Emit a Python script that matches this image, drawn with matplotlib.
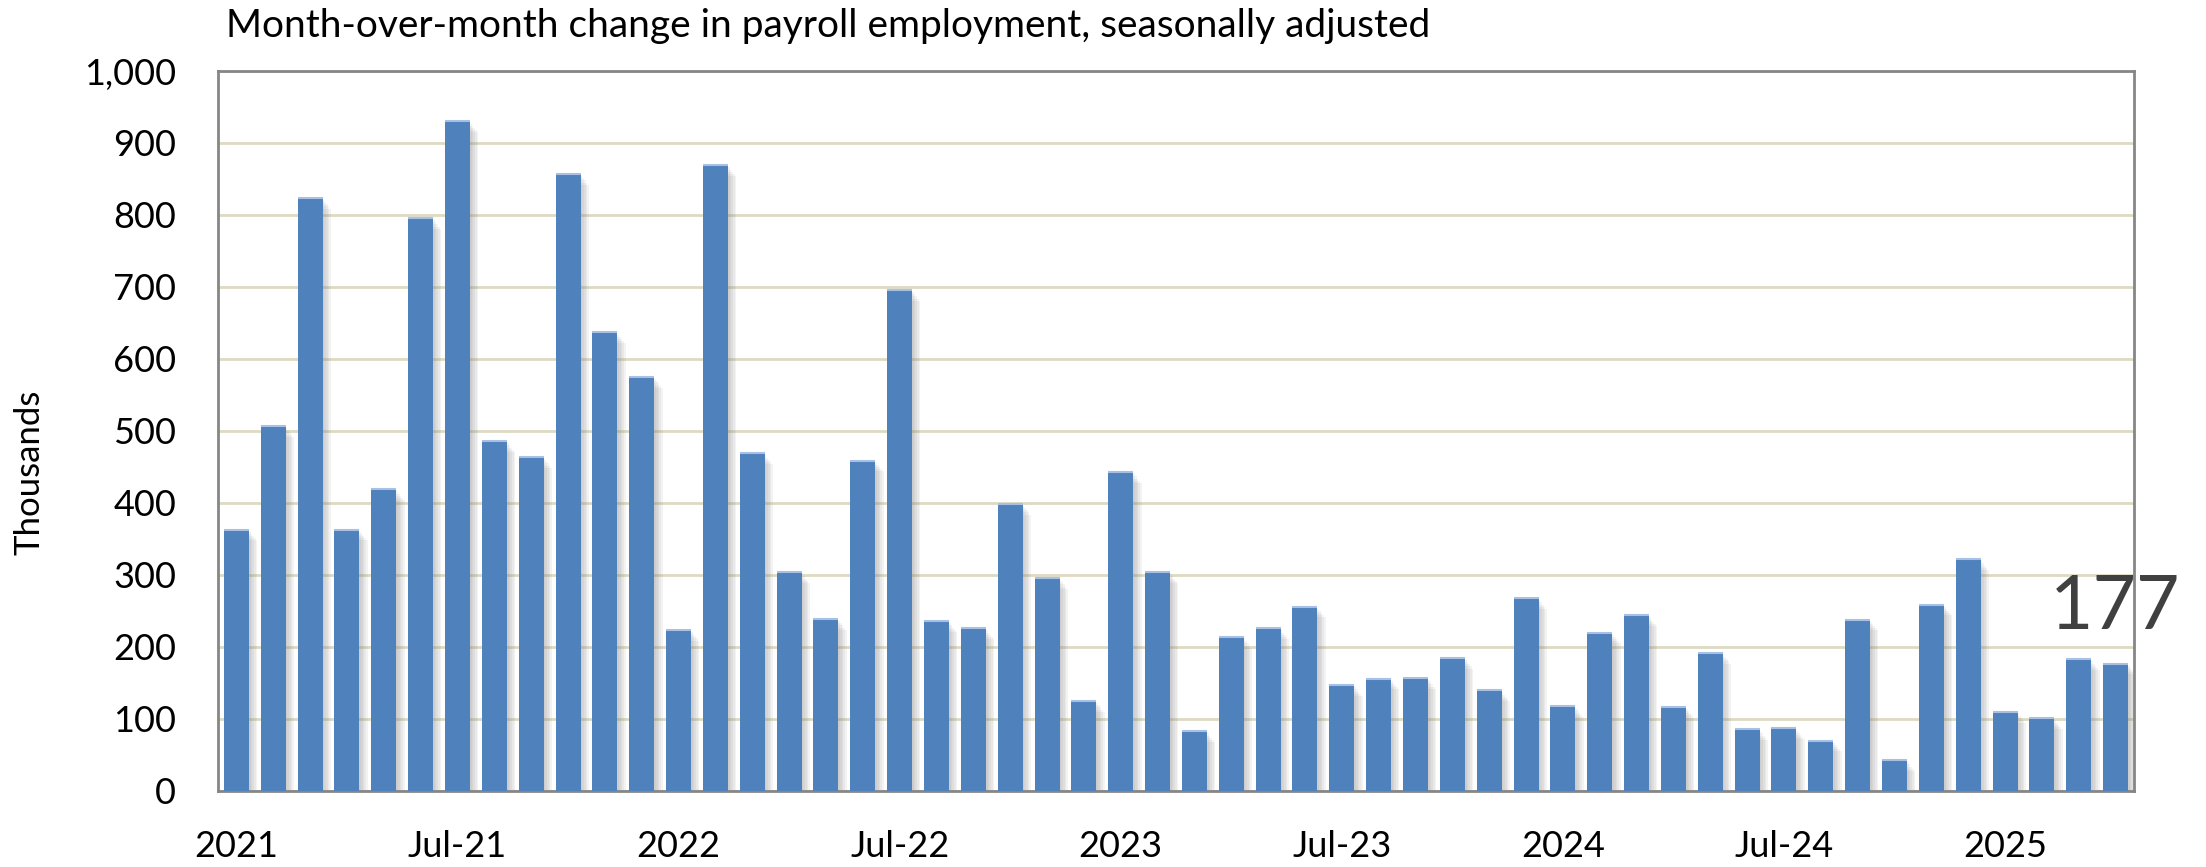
import numpy as np
import matplotlib.pyplot as plt
import pandas as pd

plt.rcParams['font.family'] = ['Lato', 'DejaVu Sans']

# monthly payroll change, thousands (Jan 2021 - Apr 2025)
months = pd.date_range('2021-01-01', '2025-04-01', freq='MS')
jobs = [363, 507, 824, 363, 419, 796, 930, 486, 464, 857, 637, 575,
        224, 869, 469, 304, 239, 459, 696, 236, 226, 399, 296, 125,
        443, 304, 83, 214, 226, 256, 147, 156, 157, 185, 140, 268,
        118, 220, 244, 117, 192, 86, 87, 70, 238, 43, 259, 322,
        110, 101, 183, 177]
tick_idx = [0, 6, 12, 18, 24, 30, 36, 42, 48]
tick_labels = ['2021', 'Jul-21', '2022', 'Jul-22', '2023', 'Jul-23', '2024', 'Jul-24', '2025']
yticks = [0, 100, 200, 300, 400, 500, 600, 700, 800, 900, 1000]
last_label = '177'

x = np.arange(len(months))
vals = np.array(jobs)

fig = plt.figure(figsize=(22.06, 8.67), dpi=100)
ax = fig.add_axes([218/2206, 1-791/867, (2134-218)/2206, (791-71)/867])

w = 0.68
# soft shadow on the right of each bar
for k in range(1, 6):
    ax.bar(x + k*0.045, vals - 3*k, width=w, color='#808080', alpha=0.09, zorder=2, linewidth=0)
ax.bar(x, vals, width=w, color='#4F81BD', zorder=3, linewidth=0)
ax.hlines(vals, x - w/2, x + w/2, color='#A7C0E3', lw=1.5, zorder=4)

ax.set_xlim(-0.5, len(x) - 0.5)
ax.set_ylim(0, 1000)
ax.set_yticks(yticks)
ax.set_yticklabels([f'{v:,}' for v in yticks])
ax.set_xticks(tick_idx)
ax.set_xticklabels(tick_labels)
ax.tick_params(axis='both', length=0, labelsize=26)
ax.tick_params(axis='y', pad=30)
ax.tick_params(axis='x', pad=28)
ax.grid(axis='y', color='#DDD9C3', lw=2, zorder=0)
ax.set_axisbelow(True)
for s in ax.spines.values():
    s.set_color('#868686')
    s.set_linewidth(2)

ax.annotate(last_label, (x[-1], vals[-1]), xytext=(0, 25), textcoords='offset points',
            ha='center', va='baseline', fontsize=54, color='#404040', annotation_clip=False)

fig.text(226/2206, 1-37/867, 'Month-over-month change in payroll employment, seasonally adjusted',
         fontsize=28, ha='left', va='baseline')
fig.text(29/2206, 1-472/867, 'Thousands', rotation=90, fontsize=25, ha='center', va='center')

fig.savefig('out.png', dpi=100)
